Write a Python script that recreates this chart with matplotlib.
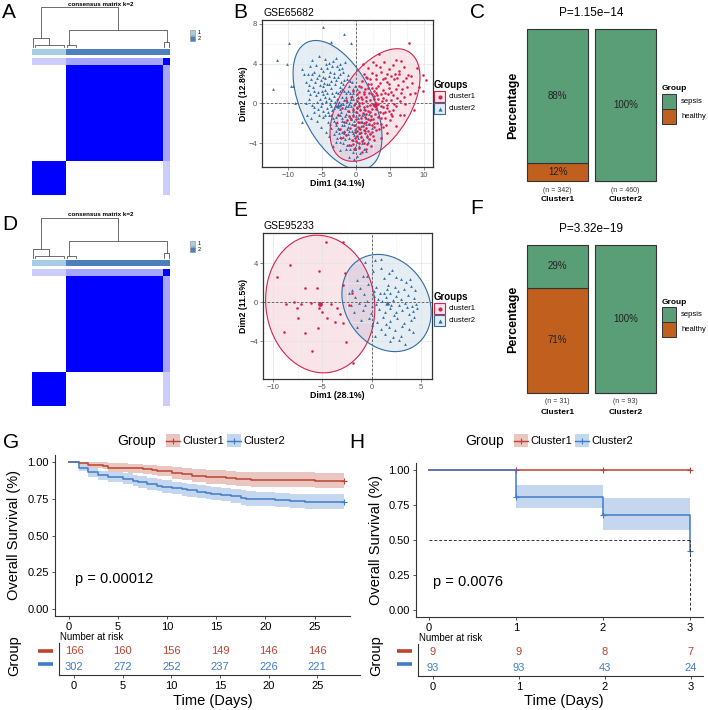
import numpy as np
import matplotlib
matplotlib.use("Agg")
import matplotlib.pyplot as plt
from matplotlib.patches import Ellipse, Rectangle
from matplotlib.colors import LinearSegmentedColormap, ListedColormap

plt.rcParams["font.family"] = ["Liberation Sans", "DejaVu Sans"]

W, H = 708, 710

# ---------------- data ----------------
# consensus clustering: samples per block (cluster1, cluster2, unstable part of cluster2)
cc_blocks = [25, 70, 5]
cc_labels = [1, 2, 2]
cc_unstable = [0.2, 0.35, 1.0]      # consensus of the unstable block with each block
dend_root, dend_c1, dend_c2 = 1.0, 0.24, 0.44
dend_leaf = [0.08, 0.07, 0.14]

# PCA GSE65682 (cluster1 red, cluster2 blue)
b_c1 = np.array([
    (7.8, 6.1), (5.8, 4.4), (10.2, 2.4), (9.9, 1.3), (9.3, 1.7), (9.8, 2.9), (1.0, 4.0), (2.5, 4.2),
    (3.4, 5.0), (8.9, 3.6), (8.1, 2.8), (8.5, -0.7), (7.1, -1.2),
    (1.8, 3.6), (3.0, 3.9), (4.1, 4.2), (4.8, 3.5), (5.5, 3.9), (6.3, 3.3), (7.0, 3.7), (2.4, 3.1),
    (3.7, 3.2), (7.6, 2.9), (6.6, 4.3),
    (0.9, 2.3), (1.6, 2.6), (2.2, 2.0), (2.9, 2.5), (3.5, 2.1), (4.2, 2.6), (4.9, 2.0), (5.6, 2.5),
    (6.2, 1.9), (6.9, 2.3), (7.5, 1.7), (8.2, 2.1), (1.3, 1.5), (2.6, 1.3), (4.0, 1.4), (5.2, 1.2),
    (6.6, 1.0), (7.9, 0.9), (8.6, 1.1),
    (0.3, 0.5), (0.9, 0.0), (1.5, 0.6), (2.1, -0.2), (2.7, 0.4), (3.3, -0.1), (3.9, 0.5), (4.5, -0.2),
    (5.1, 0.3), (5.8, -0.3), (6.4, 0.2), (7.2, -0.1), (0.6, -0.7), (1.8, -0.8), (3.0, -0.6), (4.2, -0.9),
    (5.4, -0.7), (6.5, -1.2),
    (0.0, -1.6), (0.7, -1.9), (1.3, -1.4), (1.9, -2.1), (2.5, -1.6), (3.1, -2.0), (3.7, -1.5), (4.4, -2.2),
    (5.0, -1.7), (5.8, -2.3), (1.1, -2.7), (2.3, -2.9), (3.4, -2.6), (4.6, -3.0),
    (0.2, -3.3), (0.9, -3.8), (1.6, -3.4), (2.7, -3.7), (3.6, -3.5), (-0.5, -4.1), (1.4, -4.6), (2.2, -4.3),
    (0.5, -4.5),
    (1.0, -1.0), (1.6, -0.3), (2.2, -1.3), (0.4, -1.2), (1.2, 0.9), (2.0, 0.3), (2.8, -1.1), (0.1, 0.2),
    (0.5, 1.2), (3.6, 0.9), (4.7, 0.9), (1.9, 1.1), (2.6, -2.4), (1.5, -2.5), (0.3, -2.4), (4.0, -0.4),
    (3.3, 1.8), (5.9, 1.5), (7.0, 0.6), (5.7, 3.0), (4.5, 3.0),
    (0.6, -3.0), (1.2, -2.0), (0.2, -0.5), (1.7, -1.6), (0.8, 0.6), (2.4, 0.9), (3.1, 0.8), (2.9, 1.6),
    (0.4, 1.8), (1.1, 3.0), (-0.2, -2.9), (0.0, -3.8), (1.3, -3.0), (2.0, -3.1), (3.9, -2.4), (5.3, -1.3),
    (0.5, -0.3), (1.1, -0.4), (1.4, 0.2), (2.4, -0.6), (2.9, 0.0), (3.5, -0.9), (0.8, -1.5), (1.5, -1.1),
    (2.0, -1.7), (2.7, -2.0), (3.3, -1.4), (3.9, -1.0), (4.6, -0.5), (0.3, -1.9), (1.0, -2.3), (1.8, -2.8),
    (2.9, -2.7), (0.7, -3.4), (1.9, -3.6), (1.2, -4.0), (0.0, -0.9), (-0.3, -2.2), (-0.2, -3.5), (3.8, 0.2),
    (4.3, 1.1), (4.9, 1.6), (5.5, 0.8), (6.0, 0.5), (2.3, 1.6), (1.7, 2.0), (2.9, 2.9), (3.9, 2.5),
    (4.6, 2.2), (5.2, 2.8), (6.0, 2.6), (0.2, 0.9), (0.8, 1.7), (1.4, 2.7), (3.2, 0.4), (2.5, -0.1),
    (1.3, -0.7), (0.6, -2.6), (2.3, -2.2), (3.7, -2.1), (4.2, -1.5), (5.1, -1.1), (2.0, -0.9), (0.9, 0.4),
    (1.8, 1.6), (3.0, 1.1), (4.4, 0.3), (5.6, -0.1), (6.8, 1.5), (7.3, 2.6), (6.3, 3.0), (2.0, 2.5),
    (3.5, 3.7), (1.6, -4.1), (2.5, -3.3), (0.1, -2.8), (0.4, -4.0), (0.9, -4.9), (1.1, 1.2), (2.6, 0.7),
    (3.6, -0.3), (4.8, -0.8), (1.5, -1.9), (0.5, 0.0), (-0.4, -1.3), (-0.3, -0.2),
    (-2.3, -2.6), (-1.8, -1.9), (-1.5, -3.2), (-1.2, -0.8), (-0.9, -2.5), (-0.7, -1.6), (-0.6, -3.7),
    (-1.1, -4.2), (-2.6, -1.2), (-2.0, -0.5), (-1.4, 0.3), (-0.8, 0.6), (-0.5, -0.7), (-1.7, -2.9),
    (-2.9, -2.0), (-1.0, -1.3), (-0.3, -4.6), (-1.3, -1.7), (-0.4, 1.3), (-2.2, -3.5),
])
b_c2 = np.array([
    (-12.2, 1.5), (-11.6, 4.4), (-9.8, 6.1), (-10.2, 4.0), (-9.6, 1.8), (-9.2, 1.8), (-4.8, 7.7),
    (-3.7, 6.2), (-1.7, 7.0), (-0.8, 6.1), (-8.9, 0.0), (-7.9, -1.9), (-7.2, -1.2), (-7.6, 3.0), (-8.0, 3.5),
    (-6.5, 4.4), (-5.4, 4.8), (-4.6, 4.5), (-3.9, 4.1), (-3.0, 4.6), (-2.4, 4.0), (-5.9, 3.9), (-4.2, 3.6),
    (-1.6, 4.2), (-6.8, 3.8),
    (-7.0, 3.0), (-6.2, 3.2), (-5.5, 2.9), (-4.8, 3.3), (-4.0, 2.8), (-3.3, 3.1), (-2.6, 2.7), (-1.9, 3.2),
    (-1.2, 2.9), (-5.1, 2.4), (-3.6, 2.3), (-2.2, 2.2), (-6.6, 2.5), (-7.4, 2.2),
    (-7.1, 1.4), (-6.3, 1.7), (-5.6, 1.2), (-4.9, 1.8), (-4.3, 1.1), (-3.7, 1.6), (-3.0, 1.2), (-2.4, 1.7),
    (-1.7, 1.3), (-1.0, 1.8), (-0.4, 1.1), (-5.9, 0.8), (-4.6, 0.6), (-3.3, 0.7), (-2.0, 0.6), (-0.8, 0.4),
    (-6.7, 0.9),
    (-7.3, 0.0), (-6.5, -0.2), (-5.8, 0.1), (-5.1, -0.3), (-4.4, 0.2), (-3.8, -0.1), (-3.1, 0.1), (-2.6, -0.4),
    (-1.9, -0.1), (-1.3, 0.2), (-0.7, -0.3), (-0.2, 0.0), (0.4, -0.2), (-4.9, -0.8), (-3.5, -0.7), (-2.2, -0.9),
    (-1.0, -0.8), (0.1, -0.9), (-6.1, -0.9),
    (-6.6, -1.5), (-5.7, -1.8), (-4.8, -1.4), (-4.1, -1.9), (-3.4, -1.5), (-2.8, -1.9), (-2.1, -1.5),
    (-1.5, -1.9), (-0.9, -1.4), (-0.3, -1.8), (0.3, -1.5), (0.9, -1.2), (-3.7, -2.5), (-2.5, -2.6),
    (-1.2, -2.4), (-0.1, -2.6), (0.8, -2.3), (-5.2, -2.4), (-4.4, -2.9),
    (-4.0, -3.3), (-3.2, -3.1), (-2.4, -3.4), (-1.7, -3.0), (-1.0, -3.5), (-0.3, -3.2), (0.5, -3.0),
    (1.0, -3.6), (-2.9, -3.9), (-1.9, -4.0), (-0.7, -4.2), (0.2, -3.9), (-3.4, -4.3),
    (-2.3, -4.7), (-1.4, -4.6), (-0.4, -4.9), (-1.0, -5.4), (0.1, -5.3),
    (-2.7, -1.1), (-1.6, -0.5), (-0.5, -1.1), (-1.1, -2.0), (-2.0, -2.2), (-0.6, 0.7), (-1.5, 1.0),
    (-2.8, 0.4), (-3.9, -1.2), (0.6, -0.6), (0.9, -1.9), (1.3, -2.7), (-1.8, -2.8), (-0.2, -2.2),
    (-3.0, -2.2), (-2.3, 1.3), (-4.2, 2.0), (-5.3, 1.9), (-6.0, 2.2), (-1.3, 2.5), (-0.6, 2.2), (0.2, 1.5),
    (1.2, -0.6), (1.5, -1.5), (1.6, -3.2), (1.9, -2.1),
    (-2.5, 3.5), (-3.5, 3.8), (-4.5, 2.6), (-5.0, 0.0), (-3.6, -0.3), (-2.3, -0.2), (-1.2, -0.3),
    (-0.4, -0.5), (-1.9, 2.0), (-3.1, 2.0), (-0.9, 1.0), (-1.6, -1.3), (-2.5, -3.0), (-0.6, -2.8),
    (-3.2, -0.5), (-2.5, 0.1), (-1.8, 0.3), (-1.1, -0.1), (-0.4, 0.4), (-2.9, -1.4), (-2.3, -1.2),
    (-1.4, -1.1), (-0.7, -1.6), (0.0, -1.3), (-2.0, -1.8), (-1.3, -2.6), (-0.6, -2.1), (-1.9, -3.4),
    (-1.2, -3.1), (-0.5, -3.7), (0.4, -2.5), (-2.7, -2.5), (-3.3, -1.8), (-4.3, -0.5), (-4.8, 0.9),
    (-4.0, 0.5), (-3.5, 1.1), (-2.7, 1.0), (-2.0, 1.5), (-1.2, 1.3), (-3.9, 2.0), (-4.6, 1.4), (-5.3, 0.4),
    (-5.6, -0.6), (-4.5, -1.2), (-3.8, -2.1), (-3.0, -2.8), (-2.1, -2.9), (-1.6, -3.6), (-0.9, -4.6),
    (-0.2, -4.4), (-2.8, -3.5), (-4.7, 2.1), (-5.7, 2.6), (-6.1, 1.3), (-6.9, 1.9), (-5.2, 3.6), (-4.4, 4.0),
    (-3.4, 4.3), (-2.8, 3.8), (-2.0, 3.6), (-3.8, 3.2), (-2.9, 2.4), (-1.7, 2.4), (-0.9, 2.3), (-0.2, 1.8),
    (-1.4, -0.3), (-0.9, 0.1), (0.2, -0.4), (0.5, -1.9), (-0.4, -0.8), (-2.4, -0.6), (-3.0, -0.3),
    (-3.7, 0.3), (-4.1, -0.9), (-5.4, -1.2), (-6.2, -0.4), (-6.9, 0.4), (-1.7, -2.2), (-1.0, -2.8),
    (-2.3, -3.9), (-1.3, -4.2), (0.7, -3.3), (-0.4, -3.0), (0.3, 0.6), (-0.5, 1.5), (-2.2, -0.1),
    (-3.6, -1.2), (-1.5, 0.6), (-5.0, 1.3), (-6.4, 3.0), (-4.9, 2.7), (-2.4, 3.0), (-3.3, 2.7),
    (0.4, -4.3), (1.1, -4.6), (1.7, -3.9), (0.8, -2.9), (1.4, -2.1), (2.0, -3.0), (0.6, -5.0), (-0.3, -5.6),
    (1.2, -1.1), (2.2, -1.6), (0.9, -4.0), (1.5, -4.8), (-0.1, -4.6), (0.3, -3.5), (1.9, -1.1), (2.4, -2.5),
])

# PCA GSE95233
e_c1 = np.array([
    (-4.6, 6.2), (-2.9, 6.2), (-5.3, 3.2), (-2.7, 3.0), (-6.7, 1.5), (-5.5, 1.4), (-2.9, 1.8), (-8.7, -0.2),
    (-7.9, 0.0), (-7.6, -0.6), (-7.2, -0.2), (-6.1, -0.1), (-5.3, -0.6), (-5.0, -1.0), (-4.1, -0.2),
    (-3.5, -0.6), (-2.3, -0.3), (-2.0, 0.9), (-7.5, -1.6), (-4.5, -1.6), (-3.2, -1.2), (-2.9, -2.1),
    (-3.7, -2.0), (-5.4, -2.7), (-6.7, -3.2), (-8.9, -3.1), (-2.6, -4.1), (-1.9, -6.3), (-9.6, 2.6),
    (-8.3, 3.8), (-6.0, -5.0),
])
e_c2 = np.array([
    (0.3, 4.3), (0.9, 4.4), (-0.7, 4.1), (0.9, 3.5), (2.1, 3.3), (-0.9, 2.7), (-0.5, 2.7), (1.2, 2.5),
    (3.0, 2.4), (3.5, 2.1), (-1.5, 2.3), (-2.0, 1.2), (-1.2, 1.5), (-0.4, 1.9), (0.4, 1.6), (1.6, 1.8),
    (2.4, 1.6), (3.3, 1.3), (4.0, 1.7), (4.4, 1.2), (-1.7, 0.5), (-0.8, 0.8), (0.2, 0.6), (0.8, 0.9),
    (1.4, 0.5), (1.9, 0.9), (2.5, 0.6), (3.0, 0.3), (3.7, 0.7), (4.3, 0.4), (-2.1, -0.3), (-1.3, -0.1),
    (-0.5, 0.1), (0.4, -0.2), (1.0, 0.1), (1.6, -0.1), (2.2, 0.2), (2.8, -0.3), (3.4, -0.1), (4.1, -0.4),
    (4.5, -0.2), (-1.8, -1.0), (-0.9, -0.8), (-0.1, -1.1), (0.7, -0.7), (1.3, -1.0), (1.9, -0.6),
    (2.5, -1.0), (3.1, -0.8), (3.8, -1.2), (4.2, -0.9), (-1.1, -1.8), (-0.3, -1.6), (0.5, -2.0),
    (1.1, -1.5), (1.8, -1.9), (2.6, -1.6), (3.3, -2.1), (4.0, -1.8), (-1.5, -2.6), (0.0, -2.4),
    (0.9, -2.8), (1.7, -2.6), (2.4, -2.9), (3.1, -2.5), (3.8, -2.8), (4.2, -3.1), (0.3, -3.5), (1.3, -3.3),
    (2.2, -3.6), (3.0, -3.5), (3.4, -4.3), (2.8, -3.9), (1.8, -4.0), (1.2, 0.9), (2.0, -0.3), (0.6, 0.3),
    (2.7, 1.1), (1.5, 1.3), (0.0, -0.4), (3.6, -0.5), (2.3, -1.3), (1.4, -2.2), (-0.7, -0.3), (0.2, 1.1),
    (4.3, -1.5), (3.9, 2.4), (2.5, 2.6), (1.7, 3.0), (-2.3, 0.9), (4.6, -0.6), (0.1, 3.2),
])

# composition of clusters
comp_names = ["Cluster1", "Cluster2"]
c_sepsis, c_healthy = [301, 460], [41, 0]
f_sepsis, f_healthy = [9, 93], [22, 0]
c_pval, f_pval = "P=1.15e\u221214", "P=3.32e\u221219"

# survival: event times, deaths, censored
g1_n, g1_t = 166, [1, 2, 3.5, 4, 6, 7.5, 8.5, 9, 10.5, 11.5, 12.5, 14, 16, 17, 18.5, 25, 28]
g1_d = [1, 2, 1, 2, 1, 1, 1, 1, 2, 1, 2, 2, 1, 1, 1, 1, 0]
g1_c = [0] * 16 + [145]
g2_n, g2_t = 302, [1, 2, 3, 4, 5.5, 6.5, 7, 8, 9, 9.5, 10.5, 11.5, 12, 13, 14, 14.5, 15.5, 16.5,
                   17.5, 18, 19, 21, 22.5, 24, 28]
g2_d = [12, 9, 6, 3, 4, 4, 3, 4, 3, 2, 3, 3, 2, 3, 2, 2, 2, 3, 3, 2, 1, 2, 2, 1, 0]
g2_c = [0] * 24 + [221]
g_pval = "p = 0.00012"
h1_n, h1_t, h1_d, h1_c = 9, [1, 2, 3], [0, 0, 0], [1, 1, 7]
h2_n, h2_t, h2_d, h2_c = 93, [1, 2, 3], [18, 7, 9], [32, 12, 15]
h_pval = "p = 0.0076"

# ---------------- styles ----------------
RED, BLUE = "#D42350", "#2F6DA6"
KRED, KBLUE = "#BC4332", "#3E7CC9"
GREEN, ORANGE = "#5A9E78", "#C1601E"
CC_LIGHT, CC_DARK = "#A6CEE3", "#4D80BA"

fig = plt.figure(figsize=(7.08, 7.10), dpi=100)


def box(l, t, r, b):
    return [l / W, 1 - b / H, (r - l) / W, (b - t) / H]


ov = fig.add_axes([0, 0, 1, 1], zorder=10)
ov.set_xlim(0, W)
ov.set_ylim(H, 0)
ov.axis("off")


def T(x, y, s, **kw):
    kw.setdefault("va", "center")
    ov.text(x, y, s, **kw)


for lab, x, y in [("A", 2, 13), ("B", 233, 12), ("C", 470, 12), ("D", 2, 224), ("E", 233, 211),
                  ("F", 470, 209), ("G", 3, 443), ("H", 349, 443)]:
    T(x, y, lab, fontsize=15, ha="left")


# ---------------- consensus heatmaps ----------------
def link(ax, xl, xr, h, hl, hr):
    ax.plot([xl, xl, xr, xr], [hl, h, h, hr], color="#555555", lw=0.6, clip_on=False)


def consensus(top):
    n = sum(cc_blocks)
    grp = np.repeat(np.arange(len(cc_blocks)), cc_blocks)
    M = np.zeros((n, n))
    for a in range(len(cc_blocks)):
        for b in range(len(cc_blocks)):
            if a == 2 or b == 2:
                v = cc_unstable[b if a == 2 else a]
            else:
                v = 1.0 if a == b else 0.0
            M[np.ix_(grp == a, grp == b)] = v
    hm = fig.add_axes(box(32, top + 58, 170, top + 195))
    cmap = LinearSegmentedColormap.from_list("cc", ["white", "#0000FF"])
    hm.imshow(M, cmap=cmap, vmin=0, vmax=1, origin="lower", aspect="auto", interpolation="nearest")
    hm.axis("off")

    an = fig.add_axes(box(32, top + 49, 170, top + 55))
    an.imshow(np.repeat(cc_labels, cc_blocks)[None, :], cmap=ListedColormap([CC_LIGHT, CC_DARK]),
              aspect="auto", interpolation="nearest")
    an.axis("off")

    dn = fig.add_axes(box(32, top + 7, 170, top + 48))
    dn.set_xlim(0, n)
    dn.set_ylim(0, dend_root)
    dn.axis("off")
    n1, n2 = cc_blocks[0], cc_blocks[0] + cc_blocks[1]
    a1, b1 = 0.5, n1 * 0.5
    a2, b2 = n1 + 1.5, n2 + cc_blocks[2] / 2
    link(dn, (a1 + b1) / 2, (a2 + b2) / 2, dend_root, dend_c1, dend_c2)
    link(dn, a1, b1, dend_c1, 0.02, dend_leaf[0])
    link(dn, a2, b2, dend_c2, dend_leaf[1], dend_leaf[2])
    link(dn, 2, n1 - 2, dend_leaf[0], 0.02, 0.02)
    link(dn, n1 + 0.5, n1 + 7, dend_leaf[1], 0.02, 0.02)
    link(dn, n2 + 1, n - 1, dend_leaf[2], 0.03, 0.03)

    T(101, top + 4, "consensus matrix k=2", fontsize=4.5, weight="bold", ha="center")
    for i, (lab, c) in enumerate([("1", CC_LIGHT), ("2", CC_DARK)]):
        ov.add_patch(Rectangle((190, top + 30 + 6 * i), 4.5, 4.5, fc=c, ec="#888888", lw=0.4))
        T(198, top + 32.5 + 6 * i, lab, fontsize=4, ha="left")


consensus(0)
consensus(211)


# ---------------- PCA ----------------
def norm_ellipse(ax, pts, color):
    mu = pts.mean(0)
    vals, vecs = np.linalg.eigh(np.cov(pts.T))
    ang = np.degrees(np.arctan2(vecs[1, 1], vecs[0, 1]))
    r = np.sqrt(5.991)
    w, h = 2 * r * np.sqrt(vals[1]), 2 * r * np.sqrt(vals[0])
    ax.add_patch(Ellipse(mu, w, h, angle=ang, fc=color, alpha=0.12, lw=0, zorder=1))
    ax.add_patch(Ellipse(mu, w, h, angle=ang, fc="none", ec=color, lw=0.8, zorder=3))
    return mu


def pca(rect, c1, c2, xlim, ylim, xt, yt, title, xl, yl, top):
    ax = fig.add_axes(box(*rect))
    ax.set_xlim(*xlim)
    ax.set_ylim(*ylim)
    ax.set_xticks(xt)
    ax.set_yticks(yt)
    ax.set_xticks([(a + b) / 2 for a, b in zip(xt[:-1], xt[1:])], minor=True)
    ax.set_yticks([(a + b) / 2 for a, b in zip(yt[:-1], yt[1:])], minor=True)
    ax.grid(True, which="major", color="#E3E3E3", lw=0.5, zorder=0)
    ax.grid(True, which="minor", color="#F1F1F1", lw=0.4, zorder=0)
    ax.tick_params(which="major", labelsize=5.5, colors="#555555", length=2, width=0.5, pad=1.5)
    ax.tick_params(which="minor", length=0)
    for s in ax.spines.values():
        s.set_color("#333333")
        s.set_linewidth(0.9)
    ax.axhline(0, color="#555555", lw=0.6, ls=(0, (3, 2)), zorder=2)
    ax.axvline(0, color="#555555", lw=0.6, ls=(0, (3, 2)), zorder=2)
    m2 = norm_ellipse(ax, c2, BLUE)
    m1 = norm_ellipse(ax, c1, RED)
    ax.scatter(c2[:, 0], c2[:, 1], s=4, marker="^", color=BLUE, lw=0, zorder=4)
    ax.scatter(c1[:, 0], c1[:, 1], s=3.5, marker="o", color=RED, lw=0, zorder=4)
    ax.scatter([m2[0]], [m2[1]], s=10, marker="^", color=BLUE, lw=0, zorder=5)
    ax.scatter([m1[0]], [m1[1]], s=12, marker="o", color=RED, lw=0, zorder=5)
    T(rect[0] + 1, rect[1] - 7, title, fontsize=7.5, ha="left")
    T((rect[0] + rect[2]) / 2 - 10, rect[3] + 16, xl, fontsize=6.3, weight="bold", ha="center")
    T(243, (rect[1] + rect[3]) / 2, yl, fontsize=6.3, weight="bold", ha="center", rotation=90)
    T(434, top, "Groups", fontsize=7, weight="bold", ha="left")
    for i, (lab, c, mk) in enumerate([("cluster1", RED, "o"), ("cluster2", BLUE, "^")]):
        y = top + 11.5 + 12 * i
        ov.add_patch(Rectangle((434, y - 5.5), 11, 11, fc=c, alpha=0.12, lw=0))
        ov.add_patch(Rectangle((434, y - 5.5), 11, 11, fc="none", ec=c, lw=0.8))
        ov.plot([439.5], [y], marker=mk, ms=3, color=c, mew=0)
        T(449, y, lab, fontsize=5.5, ha="left")


pca((262, 20, 433, 167), b_c1, b_c2, (-13.8, 11.3), (-6.4, 8.4), [-10, -5, 0, 5, 10], [-4, 0, 4, 8],
    "GSE65682", "Dim1 (34.1%)", "Dim2 (12.8%)", 85)
pca((263, 233, 432, 379), e_c1, e_c2, (-11.0, 6.1), (-7.9, 7.1), [-10, -5, 0, 5], [-4, 0, 4],
    "GSE95233", "Dim1 (28.1%)", "Dim2 (11.5%)", 297)


# ---------------- composition bars ----------------
def comp(rect, sepsis, healthy, pval, ny, cy, leg_top):
    ax = fig.add_axes(box(*rect))
    ax.set_xlim(0.4, 2.6)
    ax.set_ylim(0, 1)
    ax.axis("off")
    x = np.arange(1, len(comp_names) + 1)
    tot = np.array(sepsis) + np.array(healthy)
    ph = np.array(healthy) / tot
    ps = np.array(sepsis) / tot
    ax.bar(x, ph, width=0.9, color=ORANGE, ec="#333333", lw=0.8, clip_on=False)
    ax.bar(x, ps, bottom=ph, width=0.9, color=GREEN, ec="#333333", lw=0.8, clip_on=False)
    for i in range(len(x)):
        if ph[i] > 0:
            ax.text(x[i], ph[i] / 2, f"{ph[i] * 100:.0f}%", ha="center", va="center", fontsize=7, color="#222222")
        ax.text(x[i], ph[i] + ps[i] / 2, f"{ps[i] * 100:.0f}%", ha="center", va="center", fontsize=7,
                color="#222222")
        ax.annotate(f"(n = {tot[i]})", (x[i], 0), xytext=(0, -ny), textcoords="offset points",
                    ha="center", va="center", fontsize=5, color="#333333")
        ax.annotate(comp_names[i], (x[i], 0), xytext=(0, -cy), textcoords="offset points",
                    ha="center", va="center", fontsize=6, weight="bold")
    T(591, rect[1] - 16, pval, fontsize=8.5, ha="center")
    T(513, (rect[1] + rect[3]) / 2, "Percentage", fontsize=9, weight="bold", ha="center", rotation=90)
    T(662, leg_top, "Group", fontsize=6, weight="bold", ha="left")
    for i, (lab, c) in enumerate([("sepsis", GREEN), ("healthy", ORANGE)]):
        y0 = leg_top + 5 + 15 * i
        ov.add_patch(Rectangle((662, y0), 13.5, 15, fc=c, ec="#333333", lw=0.7))
        T(681, y0 + 7.5, lab, fontsize=5.5, ha="left")


comp((517, 29, 666, 181), c_sepsis, c_healthy, c_pval, 6.5, 13, 89)
comp((517, 245, 666, 393), f_sepsis, f_healthy, f_pval, 5.8, 14.4, 302)


# ---------------- Kaplan-Meier ----------------
def km(n, times, deaths, cens):
    t, s, lo, hi = [0.0], [1.0], [1.0], [1.0]
    risk, surv, gw = n, 1.0, 0.0
    for ti, d, c in zip(times, deaths, cens):
        if d > 0:
            surv *= 1 - d / risk
            gw += d / (risk * (risk - d))
        se = np.sqrt(gw)
        t.append(ti)
        s.append(surv)
        lo.append(surv * np.exp(-1.96 * se))
        hi.append(min(1.0, surv * np.exp(1.96 * se)))
        risk -= d + c
    return np.array(t), np.array(s), np.array(lo), np.array(hi)


def at_risk(n, times, deaths, cens, t0):
    return n - sum(d + c for ti, d, c in zip(times, deaths, cens) if ti < t0)


def style_axis(ax):
    for k in ("top", "right"):
        ax.spines[k].set_visible(False)
    for k in ("left", "bottom"):
        ax.spines[k].set_color("#333333")
        ax.spines[k].set_linewidth(0.8)
    ax.tick_params(labelsize=8, length=2.5, width=0.6, color="#333333", pad=2)


def survival(rect, trect, xlim, txlim, xt, groups, pval, ploc, median, left, leg_x):
    ax = fig.add_axes(box(*rect))
    style_axis(ax)
    ax.set_xlim(*xlim)
    ax.set_ylim(-0.05, 1.05)
    ax.set_xticks(xt)
    ax.set_yticks([0, 0.25, 0.5, 0.75, 1.0])
    ax.set_yticklabels(["0.00", "0.25", "0.50", "0.75", "1.00"])
    for n, tt, dd, cc, col in groups:
        t, s, lo, hi = km(n, tt, dd, cc)
        ax.fill_between(t, lo, hi, step="post", color=col, alpha=0.3, lw=0)
        ax.step(t, s, where="post", color=col, lw=1.1)
        cm = np.array(cc) > 0
        ax.plot(t[1:][cm], s[1:][cm], "+", color=col, ms=4, mew=0.8)
    if median:
        t, s, _, _ = km(*groups[1][:4])
        tm = t[np.argmax(s <= 0.5)]
        ax.plot([0, tm], [0.5, 0.5], color="#333333", lw=0.7, ls=(0, (3, 2)))
        ax.plot([tm, tm], [0, 0.5], color="#333333", lw=0.7, ls=(0, (3, 2)))
    ax.text(ploc, 0.2, pval, fontsize=10.5, ha="left", va="center")

    tb = fig.add_axes(box(*trect))
    style_axis(tb)
    tb.set_xlim(*txlim)
    tb.set_ylim(0.5, 2.5)
    tb.set_xticks(xt)
    tb.set_yticks([])
    for row, (n, tt, dd, cc, col) in zip([2, 1], groups):
        for x in xt:
            tb.text(x, row, str(at_risk(n, tt, dd, cc, x)), color=col, fontsize=8, ha="center", va="center")

    T(trect[0] + 1, trect[1] - 6, "Number at risk", fontsize=7, ha="left")
    T(left, (rect[1] + rect[3]) / 2, "Overall Survival (%)", fontsize=10.5, rotation=90, ha="center")
    T(left, 656, "Group", fontsize=10.5, rotation=90, ha="center")
    for y, col in [(651, KRED), (664, KBLUE)]:
        ov.plot([trect[0] - 21, trect[0] - 6], [y, y], color=col, lw=2.6, solid_capstyle="butt")
    T((trect[0] + trect[2]) / 2 + 3, 701, "Time (Days)", fontsize=10.5, ha="center")
    T(leg_x, 441, "Group", fontsize=10, ha="left")
    for i, (lab, col) in enumerate([("Cluster1", KRED), ("Cluster2", KBLUE)]):
        x0 = leg_x + 49 + 61 * i
        ov.add_patch(Rectangle((x0, 434), 14, 13, fc=col, alpha=0.3, lw=0))
        ov.plot([x0, x0 + 14], [440.5, 440.5], color=col, lw=1)
        ov.plot([x0 + 7], [440.5], "+", color=col, ms=4, mew=0.8)
        T(x0 + 16, 441, lab, fontsize=8, ha="left")


survival((55, 455, 350, 616), (59, 643, 360, 675), (-1.4, 28.6), (-1.54, 29.4), [0, 5, 10, 15, 20, 25],
         [(g1_n, g1_t, g1_d, g1_c, KRED), (g2_n, g2_t, g2_d, g2_c, KBLUE)], g_pval, 0.6, False, 14, 117)
survival((416, 463, 703, 617), (418, 644, 703, 676), (-0.15, 3.15), (-0.174, 3.14), [0, 1, 2, 3],
         [(h1_n, h1_t, h1_d, h1_c, KRED), (h2_n, h2_t, h2_d, h2_c, KBLUE)], h_pval, 0.05, True, 376, 465)

fig.savefig("out.png", dpi=100)
